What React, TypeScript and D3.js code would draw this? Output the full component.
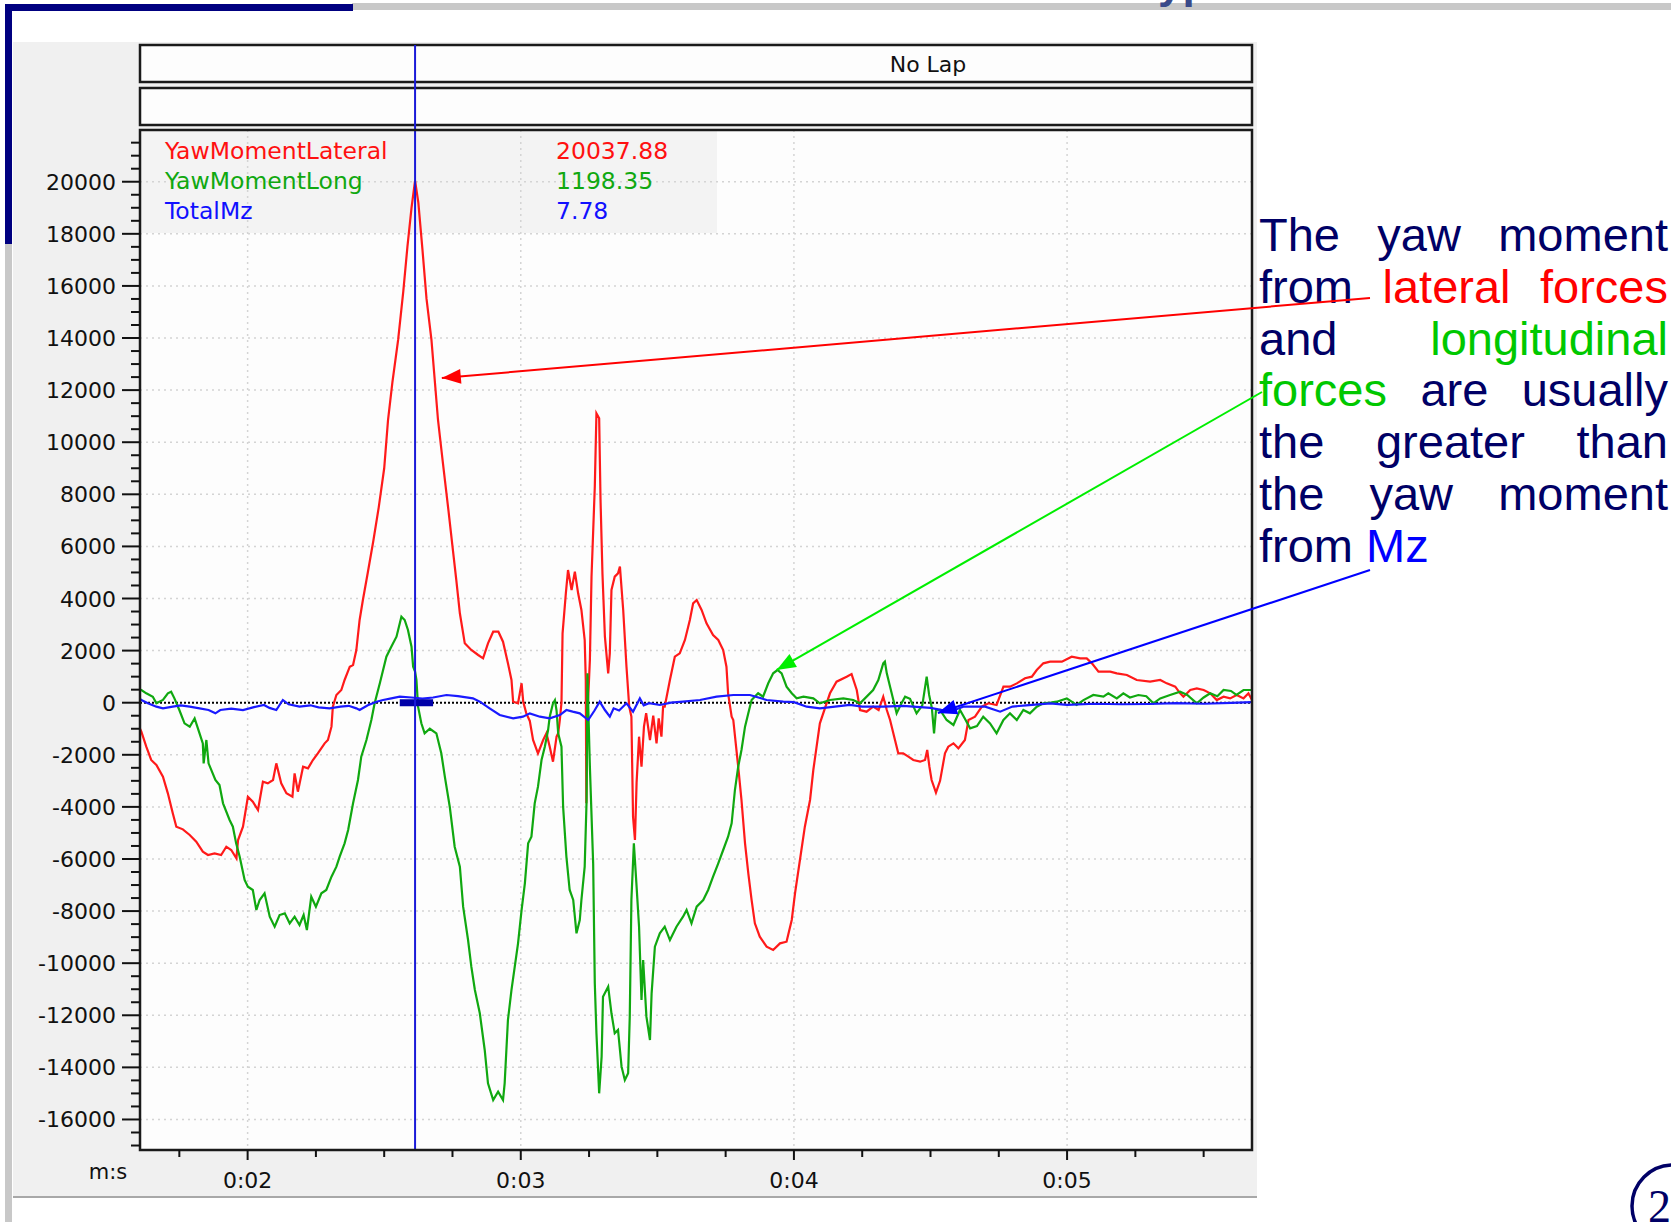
import * as d3 from "d3";

// time (s) / moment values
const lateral: [number, number][] = [
  [1.606, -1000], [1.611, -1113], [1.629, -1689], [1.647, -2200], [1.666, -2392], [1.69, -2841],
  [1.708, -3479], [1.726, -4246], [1.739, -4760], [1.763, -4862], [1.788, -5079], [1.812, -5336],
  [1.836, -5720], [1.855, -5848], [1.879, -5784], [1.903, -5848], [1.922, -5528], [1.94, -5655],
  [1.959, -5975], [1.965, -5271], [1.983, -4760], [2.001, -3609], [2.019, -3800], [2.038, -4120],
  [2.056, -3033], [2.074, -3097], [2.093, -2969], [2.105, -2328], [2.123, -3097], [2.142, -3479],
  [2.164, -3609], [2.172, -2713], [2.184, -3416], [2.203, -2457], [2.221, -2521], [2.239, -2200],
  [2.257, -1944], [2.282, -1560], [2.294, -1432], [2.307, -921], [2.312, -153], [2.325, 296],
  [2.343, 488], [2.355, 872], [2.374, 1382], [2.386, 1446], [2.398, 2023], [2.41, 3175],
  [2.422, 3943], [2.44, 5000], [2.46, 6200], [2.48, 7500], [2.5, 9000], [2.514, 10850],
  [2.53, 12300], [2.551, 13925], [2.57, 15800], [2.585, 17500], [2.6, 19000], [2.613, 20038],
  [2.625, 19200], [2.64, 17400], [2.655, 15500], [2.673, 13925], [2.697, 10853], [2.715, 9200],
  [2.735, 7400], [2.75, 6000], [2.764, 4710], [2.777, 3432], [2.795, 2280], [2.819, 2023],
  [2.844, 1831], [2.862, 1704], [2.88, 2280], [2.899, 2726], [2.918, 2726], [2.935, 2342],
  [2.953, 1512], [2.966, 871], [2.972, 38], [2.99, -23], [3.003, 745], [3.009, 38], [3.02, -400],
  [3.033, -700], [3.045, -1432], [3.063, -1944], [3.082, -1432], [3.094, -1175], [3.106, -1689],
  [3.118, -2265], [3.131, -1305], [3.137, -1176], [3.143, -664], [3.149, 0], [3.153, 2664],
  [3.165, 4200], [3.173, 5094], [3.186, 4326], [3.198, 5030], [3.21, 4200], [3.222, 3559],
  [3.234, 2407], [3.238, 871], [3.24, -3862], [3.244, -500], [3.253, 1640], [3.259, 4838],
  [3.271, 8292], [3.277, 11110], [3.287, 10918], [3.292, 7782], [3.299, 4966], [3.308, 2534],
  [3.32, 1126], [3.326, 1896], [3.332, 4326], [3.344, 4838], [3.356, 4966], [3.363, 5222],
  [3.375, 3559], [3.387, 1382], [3.397, -153], [3.405, -537], [3.411, -4376], [3.418, -5271],
  [3.424, -3070], [3.433, -1305], [3.442, -2457], [3.451, -921], [3.459, -400], [3.473, -1432],
  [3.485, -500], [3.497, -1560], [3.505, -600], [3.515, -1305], [3.521, -153], [3.527, -153],
  [3.546, 871], [3.564, 1766], [3.582, 1896], [3.601, 2407], [3.619, 3175], [3.631, 3815],
  [3.644, 3943], [3.662, 3559], [3.68, 3048], [3.704, 2599], [3.723, 2407], [3.741, 2023],
  [3.753, 1382], [3.759, 361], [3.772, -537], [3.778, -664], [3.796, -2457], [3.808, -3735],
  [3.821, -5400], [3.833, -6550], [3.845, -7574], [3.857, -8470], [3.875, -8983], [3.9, -9367],
  [3.924, -9495], [3.949, -9239], [3.973, -9175], [3.992, -8342], [4.004, -7318], [4.022, -6039],
  [4.04, -4760], [4.059, -3735], [4.071, -2584], [4.095, -791], [4.132, 361], [4.156, 806],
  [4.193, 1000], [4.211, 1100], [4.23, 488], [4.242, -281], [4.266, -345], [4.29, -153],
  [4.31, -281], [4.327, 230], [4.34, -281], [4.352, -664], [4.37, -1432], [4.382, -1943],
  [4.4, -1943], [4.419, -2071], [4.437, -2200], [4.462, -2264], [4.48, -2200], [4.488, -1816],
  [4.496, -2457], [4.504, -2968], [4.52, -3450], [4.535, -3000], [4.553, -1943], [4.565, -1689],
  [4.584, -1560], [4.602, -1753], [4.626, -1432], [4.639, -664], [4.663, -537], [4.688, -153],
  [4.712, -23], [4.742, -87], [4.767, 614], [4.791, 614], [4.816, 742], [4.846, 937],
  [4.871, 999], [4.889, 1255], [4.913, 1511], [4.938, 1575], [4.981, 1575], [5.017, 1766],
  [5.048, 1700], [5.072, 1700], [5.091, 1511], [5.115, 1190], [5.158, 1190], [5.182, 1127],
  [5.219, 1063], [5.255, 871], [5.304, 806], [5.341, 871], [5.365, 742], [5.396, 614],
  [5.414, 361], [5.426, 230], [5.451, 488], [5.475, 550], [5.5, 488], [5.524, 361],
  [5.548, 102], [5.573, 230], [5.597, 166], [5.621, 295], [5.646, 166], [5.664, 361], [5.677, 102],
];

const longit: [number, number][] = [
  [1.606, 500], [1.611, 488], [1.629, 361], [1.653, 230], [1.666, -23], [1.69, 104], [1.708, 361],
  [1.72, 424], [1.732, 166], [1.75, -281], [1.769, -791], [1.788, -921], [1.806, -600],
  [1.824, -1176], [1.836, -1560], [1.839, -2328], [1.849, -1432], [1.857, -2328], [1.882, -2968],
  [1.897, -3160], [1.91, -3863], [1.934, -4504], [1.946, -4760], [1.958, -5400], [1.971, -5912],
  [1.989, -6807], [2.001, -7063], [2.019, -7191], [2.032, -7958], [2.044, -7574], [2.062, -7318],
  [2.081, -8215], [2.099, -8599], [2.117, -8151], [2.136, -8087], [2.154, -8470], [2.172, -8215],
  [2.19, -8535], [2.205, -8151], [2.217, -8726], [2.233, -7447], [2.25, -7830], [2.27, -7318],
  [2.288, -7191], [2.307, -6679], [2.325, -6295], [2.337, -5912], [2.355, -5400], [2.368, -4888],
  [2.386, -3863], [2.404, -2968], [2.416, -2073], [2.435, -1432], [2.453, -664], [2.465, -23],
  [2.484, 745], [2.508, 1766], [2.526, 2150], [2.545, 2534], [2.563, 3302], [2.575, 3175],
  [2.587, 2790], [2.6, 2150], [2.606, 1382], [2.613, 1198], [2.618, 872], [2.624, -153],
  [2.636, -791], [2.648, -1176], [2.667, -1000], [2.691, -1176], [2.709, -1943], [2.722, -2841],
  [2.74, -3993], [2.758, -5528], [2.777, -6295], [2.789, -7831], [2.807, -9110], [2.819, -10135],
  [2.832, -11029], [2.85, -11924], [2.868, -13333], [2.88, -14612], [2.899, -15252],
  [2.917, -14932], [2.935, -15252], [2.941, -14612], [2.953, -12181], [2.966, -11029],
  [2.978, -10135], [2.99, -9239], [3.003, -7958], [3.015, -6935], [3.027, -5400], [3.039, -5143],
  [3.051, -3863], [3.063, -3224], [3.076, -2200], [3.088, -1688], [3.1, -1049], [3.106, -537],
  [3.118, -23], [3.125, 100], [3.131, -300], [3.137, -1175], [3.149, -1688], [3.155, -3992],
  [3.167, -5912], [3.179, -7190], [3.192, -7574], [3.204, -8855], [3.216, -8342], [3.222, -7574],
  [3.234, -6295], [3.241, -3735], [3.244, 1127], [3.248, -537], [3.253, -2457], [3.265, -6167],
  [3.271, -10774], [3.277, -12692], [3.287, -14996], [3.296, -13589], [3.301, -11286],
  [3.32, -10902], [3.332, -11924], [3.344, -12692], [3.356, -12564], [3.369, -13973],
  [3.381, -14484], [3.393, -14228], [3.399, -12052], [3.405, -7574], [3.414, -5400],
  [3.424, -7063], [3.433, -8599], [3.442, -11413], [3.448, -9879], [3.46, -12052],
  [3.473, -12948], [3.479, -11157], [3.491, -9367], [3.509, -8855], [3.527, -8599],
  [3.546, -9111], [3.57, -8599], [3.594, -8215], [3.607, -7958], [3.625, -8471], [3.644, -7830],
  [3.668, -7574], [3.686, -7190], [3.704, -6679], [3.723, -6167], [3.741, -5655], [3.759, -5143],
  [3.772, -4632], [3.784, -3352], [3.796, -2457], [3.808, -1815], [3.821, -921], [3.833, -409],
  [3.845, 104], [3.869, 361], [3.887, 230], [3.906, 745], [3.924, 1127], [3.94, 1255],
  [3.955, 1127], [3.973, 614], [3.992, 361], [4.01, 166], [4.035, 230], [4.071, 166],
  [4.095, -23], [4.132, 104], [4.181, 166], [4.217, 104], [4.242, -23], [4.29, 488], [4.309, 871],
  [4.327, 1511], [4.333, 1575], [4.34, 1127], [4.352, 614], [4.364, 104], [4.376, -409],
  [4.39, -100], [4.407, 230], [4.425, 150], [4.449, -409], [4.47, -100], [4.486, 999],
  [4.495, 300], [4.505, -200], [4.513, -1176], [4.52, -300], [4.535, -281], [4.559, -664],
  [4.584, -856], [4.608, -281], [4.625, -600], [4.645, -984], [4.67, -900], [4.693, -537],
  [4.718, -793], [4.742, -1176], [4.767, -664], [4.791, -409], [4.816, -664], [4.84, -281],
  [4.864, -409], [4.889, -153], [4.913, -23], [4.94, 0], [4.962, 38], [4.999, 166], [5.035, -87],
  [5.06, 100], [5.096, 295], [5.133, 230], [5.151, 361], [5.182, 166], [5.206, 361], [5.23, 200],
  [5.261, 295], [5.29, 250], [5.316, -23], [5.341, 166], [5.377, 295], [5.414, 424], [5.44, 300],
  [5.475, -23], [5.5, 200], [5.524, 361], [5.55, 250], [5.573, 488], [5.6, 450], [5.62, 300],
  [5.646, 488], [5.677, 488],
];

const totalMz: [number, number][] = [
  [1.606, 150], [1.611, 104], [1.635, -23], [1.666, -153], [1.69, -217], [1.726, -153],
  [1.755, -100], [1.788, -153], [1.824, -217], [1.857, -281], [1.882, -409], [1.9, -281],
  [1.94, -230], [1.983, -281], [2.02, -180], [2.06, -87], [2.08, -200], [2.105, -281],
  [2.129, 104], [2.15, -60], [2.19, -153], [2.23, -100], [2.26, -180], [2.3, -217], [2.34, -153],
  [2.37, -120], [2.398, -217], [2.41, -281], [2.44, -100], [2.472, 38], [2.496, 104],
  [2.526, 166], [2.557, 230], [2.6, 200], [2.64, 160], [2.679, 200], [2.728, 295], [2.77, 250],
  [2.825, 166], [2.85, 38], [2.886, -217], [2.923, -473], [2.972, -600], [3.008, -537],
  [3.033, -409], [3.07, -537], [3.106, -600], [3.143, -473], [3.167, -281], [3.19, -345],
  [3.216, -409], [3.247, -664], [3.27, -300], [3.289, 38], [3.308, -281], [3.326, -537],
  [3.34, -217], [3.36, -300], [3.387, -23], [3.411, -345], [3.436, 166], [3.45, -100],
  [3.47, -20], [3.509, -87], [3.55, 0], [3.594, 38], [3.656, 104], [3.717, 230], [3.778, 295],
  [3.839, 295], [3.9, 104], [3.961, 38], [4.0, 20], [4.047, -153], [4.095, -217], [4.15, -150],
  [4.205, -87], [4.25, -150], [4.327, -153], [4.4, -120], [4.5, -200], [4.571, -345],
  [4.62, -150], [4.7, -153], [4.755, -345], [4.8, -150], [4.85, -100], [4.938, -23], [5.0, -80],
  [5.1, -40], [5.2, -60], [5.3, -50], [5.4, -20], [5.5, -40], [5.6, -10], [5.677, 20],
];

const timeDomain = [1.606, 5.677];
const valueDomain = [-17172, 21986];
const cursorTime = 2.613;
const cursorBand = [2.557, 2.679];
const majorTimes = [2, 3, 4, 5];
const legendNames = ["YawMomentLateral", "YawMomentLong", "TotalMz"];
const legendValues = ["20037.88", "1198.35", "7.78"];
const seriesColors = ["#ff1010", "#10a810", "#1010ff"];

// arrow tips in data coords [time, value]
const arrowTips: [number, number][] = [[2.711, 12465], [3.937, 1256], [4.527, -395]];

const note: [string, string][][] = [
  [["The", "n"], ["yaw", "n"], ["moment", "n"]],
  [["from", "n"], ["lateral", "r"], ["forces", "r"]],
  [["and", "n"], ["longitudinal", "g"]],
  [["forces", "g"], ["are", "n"], ["usually", "n"]],
  [["the", "n"], ["greater", "n"], ["than", "n"]],
  [["the", "n"], ["yaw", "n"], ["moment", "n"]],
  [["from", "n"], ["Mz", "b"]],
];
const noteColors: Record<string, string> = { n: "#000066", r: "#ff0000", g: "#00c800", b: "#0000ff" };

const uiFont = "'DejaVu Sans', Verdana, sans-serif";

function arrowHead(x1: number, y1: number, tx: number, ty: number, len: number, half: number) {
  const a = Math.atan2(ty - y1, tx - x1);
  const bx = tx - len * Math.cos(a), by = ty - len * Math.sin(a);
  const px = -Math.sin(a) * half, py = Math.cos(a) * half;
  return `${tx},${ty} ${bx + px},${by + py} ${bx - px},${by - py}`;
}

export default function App() {
  const W = 1671, H = 1222;
  const left = 140, right = 1252, top = 130, bottom = 1150;

  const x = d3.scaleLinear().domain(timeDomain).range([left, right]);
  const y = d3.scaleLinear().domain(valueDomain).range([bottom, top]);
  const line = d3.line<[number, number]>().x(d => x(d[0])).y(d => y(d[1]));

  const yMajor = d3.range(-16000, 20001, 2000);
  const yMinor = d3.range(-17000, 21501, 500).filter(v => v % 2000 !== 0);
  const xMinor = d3.range(1.75, timeDomain[1], 0.25).filter(t => Math.abs(t - Math.round(t)) > 0.01);

  // justified annotation text
  const ctx = document.createElement("canvas").getContext("2d")!;
  const noteSize = 47;
  ctx.font = `${noteSize}px 'Liberation Sans'`;
  const nLeft = 1259, nRight = 1668, nTop = 251, nGap = 51.8;
  const words: { s: string; c: string; x: number; y: number }[] = [];
  note.forEach((ln, i) => {
    const ws = ln.map(w => ctx.measureText(w[0]).width);
    const total = d3.sum(ws);
    const last = i === note.length - 1;
    const gap = last ? ctx.measureText(" ").width : (nRight - nLeft - total) / (ln.length - 1);
    let cx = nLeft;
    ln.forEach((w, j) => {
      words.push({ s: w[0], c: noteColors[w[1]], x: cx, y: nTop + i * nGap });
      cx += ws[j] + gap;
    });
  });

  const arrowStarts: [number, number][] = [[1370, 298], [1262, 392], [1370, 570]];
  const arrowColors = ["#ff0000", "#00ee00", "#0000ff"];

  return (
    <svg width={W} height={H} style={{ position: "absolute", left: 0, top: 0, background: "#fff" }}>
      <defs>
        <clipPath id="plot">
          <rect x={left} y={top} width={right - left} height={bottom - top} />
        </clipPath>
      </defs>

      {/* slide frame */}
      <rect x={352} y={3} width={W - 352} height={7} fill="#c8c8c8" />
      <rect x={5} y={240} width={7} height={H - 240} fill="#c8c8c8" />
      <rect x={5} y={4} width={348} height={7} fill="#000080" />
      <rect x={5} y={4} width={7} height={240} fill="#000080" />
      <text x={1158} y={-2} fontFamily="'Liberation Sans'" fontWeight="bold" fontSize={44} fill="#3a4a8a">yp</text>

      {/* chart panel */}
      <rect x={13} y={42} width={1244} height={1155} fill="#f0f0f0" />
      <line x1={13} x2={1257} y1={1197} y2={1197} stroke="#a8a8a8" strokeWidth={2} />

      <rect x={left} y={45} width={right - left} height={37} fill="#fdfdfd" stroke="#1a1a1a" strokeWidth={2.5} />
      <rect x={left} y={88} width={right - left} height={37} fill="#fdfdfd" stroke="#1a1a1a" strokeWidth={2.5} />
      <text x={928} y={72} textAnchor="middle" fontFamily={uiFont} fontSize={22} fill="#111">No Lap</text>

      <rect x={left} y={top} width={right - left} height={bottom - top} fill="#fdfdfd" />
      <rect x={left + 1} y={top + 1} width={716 - left} height={232 - top} fill="#f3f3f3" />

      {/* grid */}
      {yMajor.filter(v => v !== 0).map(v => (
        <line key={"gy" + v} x1={left} x2={right} y1={y(v)} y2={y(v)} stroke="#d4d4d4" strokeWidth={1.5} strokeDasharray="2,4" />
      ))}
      {majorTimes.map(t => (
        <line key={"gx" + t} x1={x(t)} x2={x(t)} y1={top} y2={bottom} stroke="#d4d4d4" strokeWidth={1.5} strokeDasharray="2,4" />
      ))}
      <line x1={left} x2={right} y1={y(0)} y2={y(0)} stroke="#000" strokeWidth={2} strokeDasharray="2,2" />

      {/* legend */}
      {legendNames.map((n, i) => (
        <g key={n} fontFamily={uiFont} fontSize={23.5} fill={seriesColors[i]}>
          <text x={165} y={159 + i * 30}>{n}</text>
          <text x={556} y={159 + i * 30}>{legendValues[i]}</text>
        </g>
      ))}

      {/* series */}
      <g clipPath="url(#plot)" fill="none" strokeLinejoin="miter">
        <path d={line(lateral) || ""} stroke="#ff1a1a" strokeWidth={2.2} />
        <path d={line(longit) || ""} stroke="#10a810" strokeWidth={2.2} />
        <path d={line(totalMz) || ""} stroke="#1a1aff" strokeWidth={2.2} />
        <line x1={x(cursorBand[0])} x2={x(cursorBand[1])} y1={y(0)} y2={y(0)} stroke="#0000a8" strokeWidth={7} />
      </g>

      {/* cursor */}
      <line x1={x(cursorTime)} x2={x(cursorTime)} y1={45} y2={bottom} stroke="#1a1ad8" strokeWidth={2} />

      {/* plot border */}
      <rect x={left} y={top} width={right - left} height={bottom - top} fill="none" stroke="#1a1a1a" strokeWidth={2.5} />

      {/* y axis */}
      {yMajor.map(v => (
        <g key={"ty" + v}>
          <line x1={122} x2={left} y1={y(v)} y2={y(v)} stroke="#111" strokeWidth={2} />
          <text x={116} y={y(v) + 8} textAnchor="end" fontFamily={uiFont} fontSize={22} fill="#111">{String(v)}</text>
        </g>
      ))}
      {yMinor.map(v => (
        <line key={"my" + v} x1={131} x2={left} y1={y(v)} y2={y(v)} stroke="#111" strokeWidth={2} />
      ))}

      {/* x axis */}
      {majorTimes.map(t => (
        <g key={"tx" + t}>
          <line x1={x(t)} x2={x(t)} y1={bottom} y2={bottom + 10} stroke="#111" strokeWidth={2} />
          <text x={x(t)} y={1188} textAnchor="middle" fontFamily={uiFont} fontSize={22} fill="#111">{`0:0${t}`}</text>
        </g>
      ))}
      {xMinor.map(t => (
        <line key={"mx" + t} x1={x(t)} x2={x(t)} y1={bottom} y2={bottom + 7} stroke="#111" strokeWidth={2} />
      ))}
      <text x={108} y={1179} textAnchor="middle" fontFamily={uiFont} fontSize={21} fill="#111">m:s</text>

      {/* annotation */}
      {words.map((w, i) => (
        <text key={i} x={w.x} y={w.y} fontFamily="'Liberation Sans', Arial, sans-serif" fontSize={noteSize} fill={w.c}>{w.s}</text>
      ))}
      {arrowTips.map((tp, i) => {
        const tx = x(tp[0]), ty = y(tp[1]);
        const [sx, sy] = arrowStarts[i];
        return (
          <g key={"ar" + i}>
            <line x1={sx} y1={sy} x2={tx} y2={ty} stroke={arrowColors[i]} strokeWidth={2} />
            <polygon points={arrowHead(sx, sy, tx, ty, 19, 7.5)} fill={arrowColors[i]} />
          </g>
        );
      })}

      {/* page number */}
      <circle cx={1673} cy={1206} r={41} fill="none" stroke="#000066" strokeWidth={3.5} />
      <text x={1648} y={1222} fontFamily="'Liberation Serif'" fontSize={46} fill="#000066">2</text>
    </svg>
  );
}
